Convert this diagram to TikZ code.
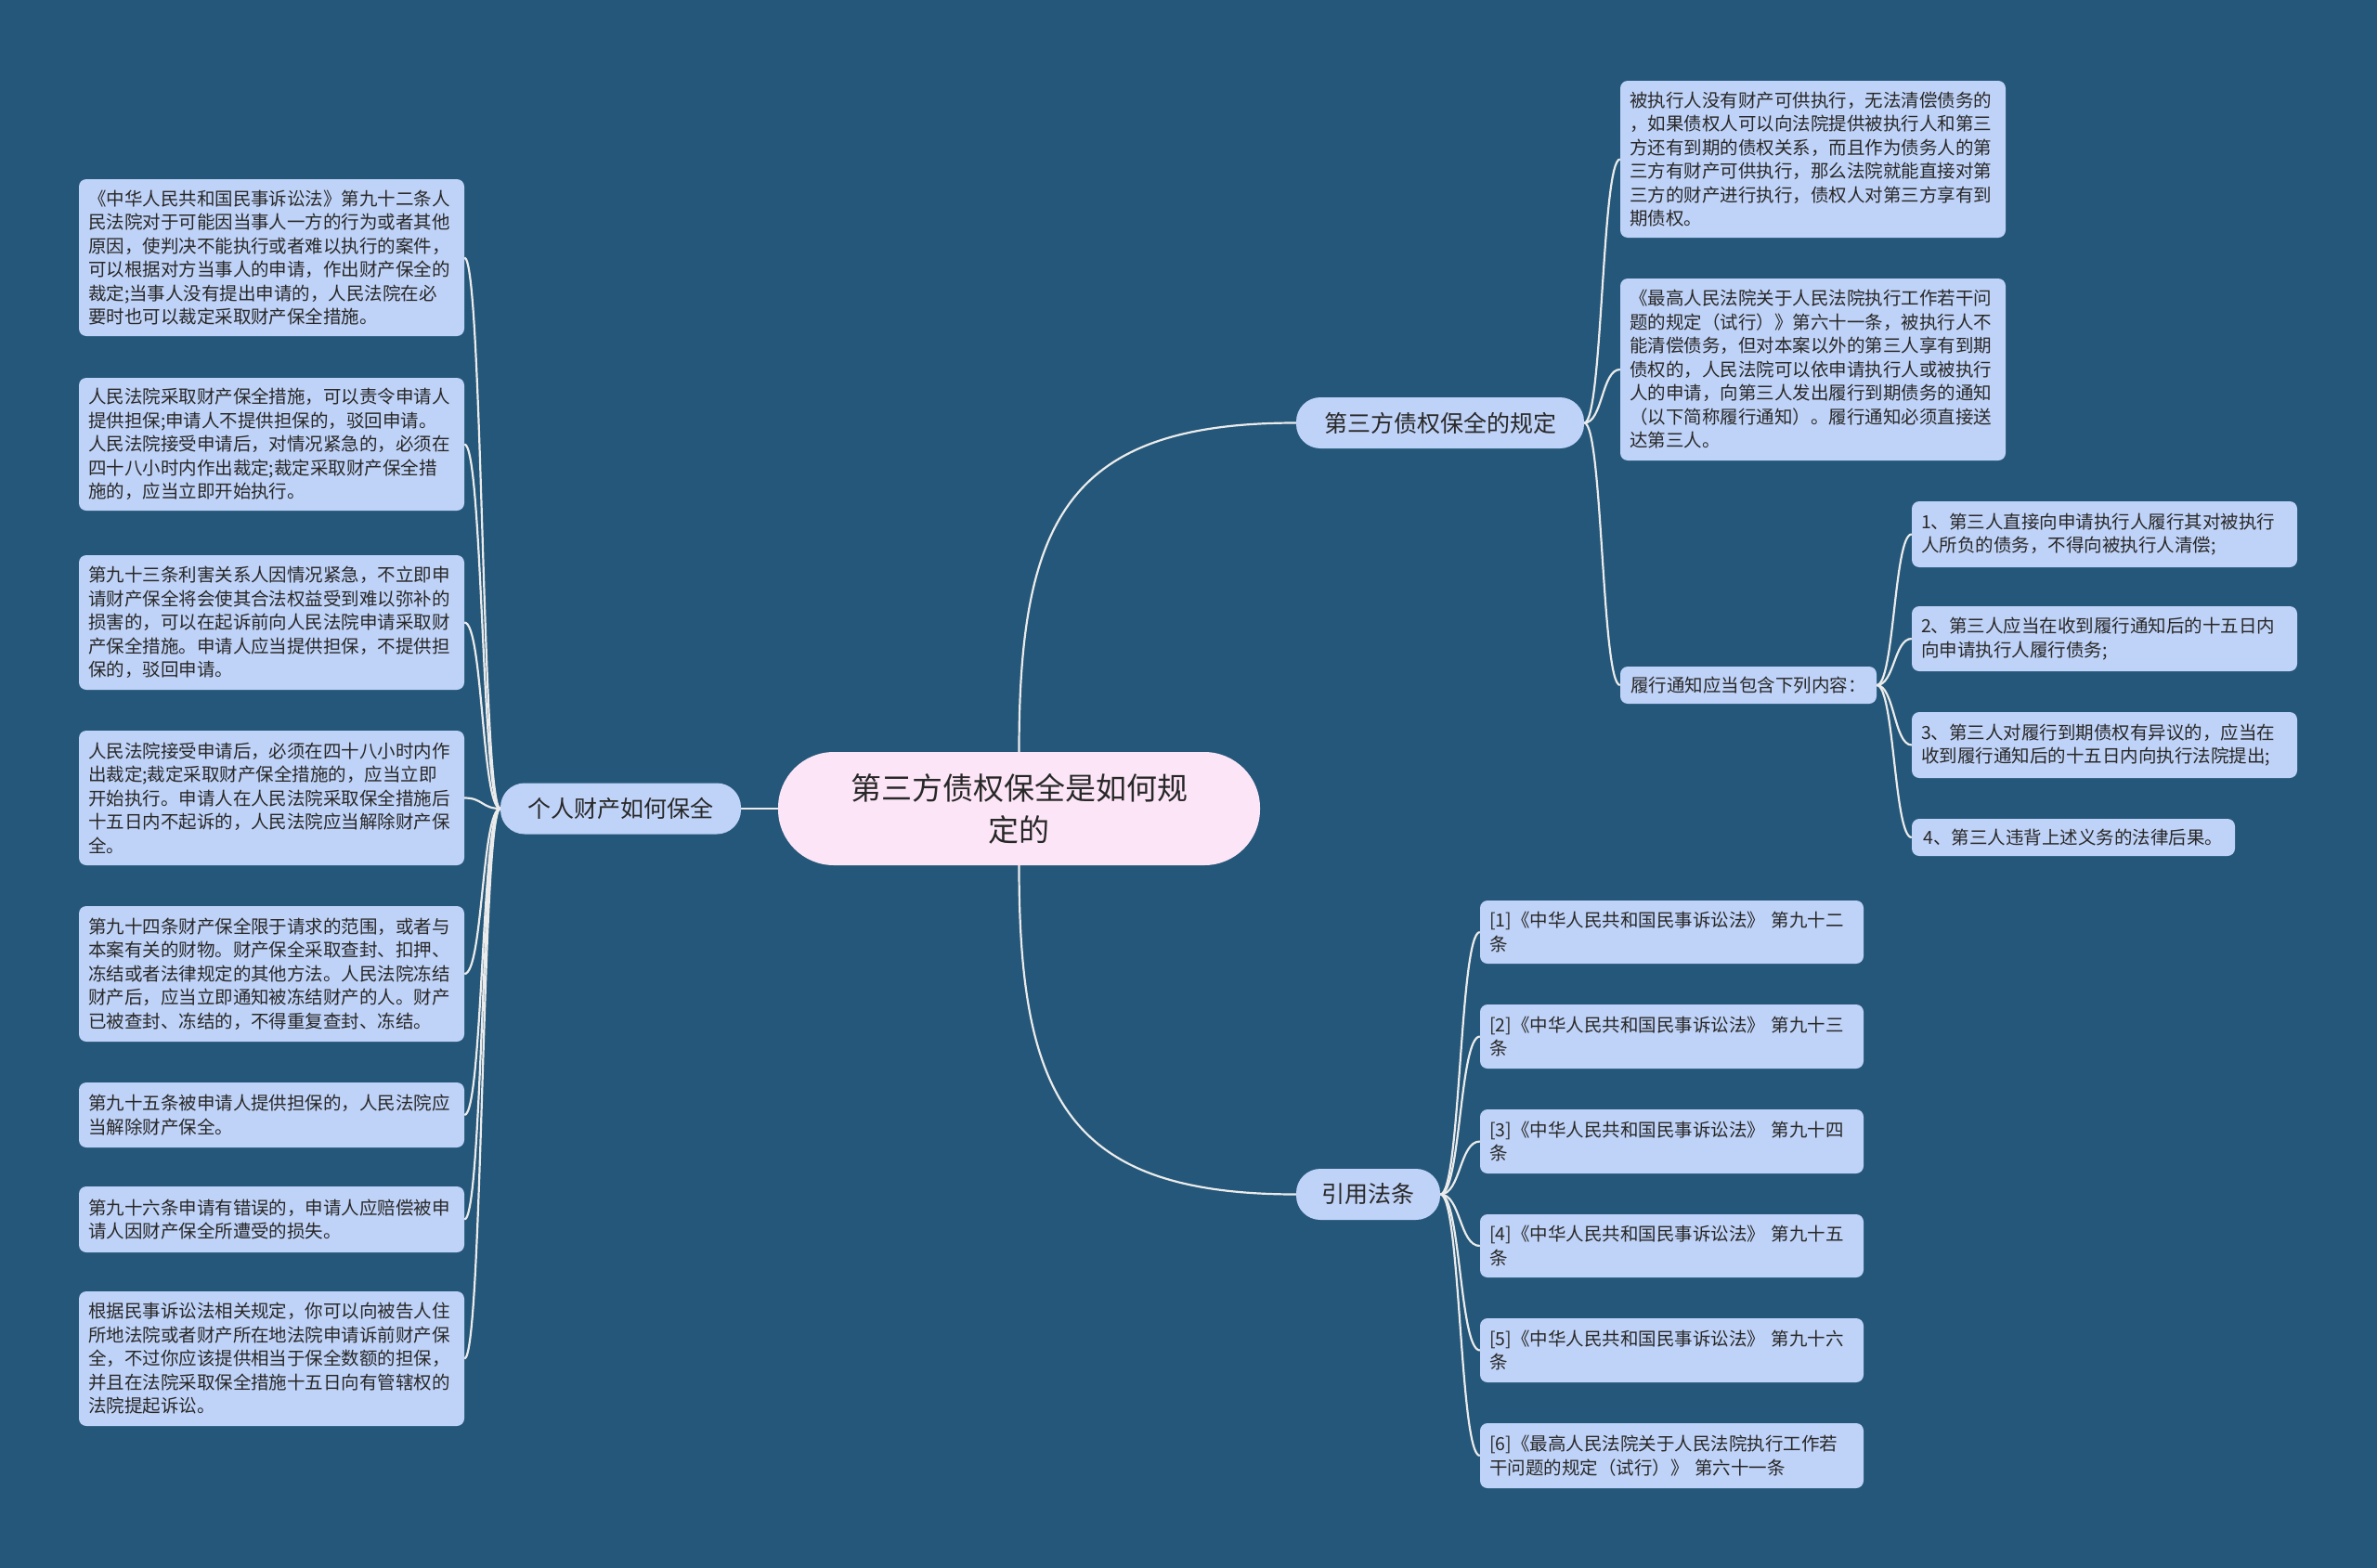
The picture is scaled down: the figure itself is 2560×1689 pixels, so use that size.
\documentclass[tikz,border=0pt]{standalone}
\usepackage{fontspec}
\newfontfamily\cjk{Noto Sans CJK SC}
\definecolor{bgc}{RGB}{36,87,121}
\definecolor{leafc}{RGB}{191,210,247}
\definecolor{rootc}{RGB}{252,229,247}
\definecolor{txt}{RGB}{40,40,40}
\definecolor{linec}{RGB}{235,235,235}
\pgfdeclarelayer{bgl}
\pgfdeclarelayer{conl}
\pgfsetlayers{bgl,conl,main}
\tikzset{
  leaf/.style={fill=leafc, rounded corners=8pt, text=txt,
    font=\cjk\fontsize{19.5}{25.5}\selectfont, align=left,
    inner xsep=10pt, inner ysep=10pt, minimum width=415pt, text width=395pt},
  leafone/.style={fill=leafc, rounded corners=8pt, text=txt,
    font=\cjk\fontsize{19.5}{25.5}\selectfont,
    inner xsep=10pt, inner ysep=8pt, minimum height=40pt},
  branch/.style={fill=leafc, rounded corners=26pt, text=txt,
    font=\cjk\fontsize{25}{30}\selectfont, minimum height=55pt, inner xsep=12pt},
  rootnode/.style={fill=rootc, rounded corners=60pt, text=txt,
    font=\cjk\fontsize{33}{45}\selectfont, align=center,
    minimum width=519pt, minimum height=122pt},
  conn/.style={draw=linec, line width=2.2pt}
}
\begin{document}
\begin{tikzpicture}[x=1pt,y=-1pt]
\begin{pgfonlayer}{bgl}
\fill[bgc] (0,0) rectangle (2560,1689);
\end{pgfonlayer}
\useasboundingbox (0,0) rectangle (2560,1689);

% root and branches
\node[rootnode] (C) at (1097.5,871) {第三方债权保全是如何规\\定的};
\node[branch, minimum width=259pt] (P) at (668.5,871) {个人财产如何保全};
\node[branch, minimum width=310pt] (T) at (1551,455.5) {第三方债权保全的规定};
\node[branch, minimum width=155pt] (Y) at (1473.5,1286.5) {引用法条};

% left leaves
\node[leaf, minimum height=169pt] (L1) at (292.5,277.5) {《中华人民共和国民事诉讼法》第九十二条人\\民法院对于可能因当事人一方的行为或者其他\\原因，使判决不能执行或者难以执行的案件，\\可以根据对方当事人的申请，作出财产保全的\\裁定;当事人没有提出申请的，人民法院在必\\要时也可以裁定采取财产保全措施。};
\node[leaf, minimum height=143pt] (L2) at (292.5,478.5) {人民法院采取财产保全措施，可以责令申请人\\提供担保;申请人不提供担保的，驳回申请。\\人民法院接受申请后，对情况紧急的，必须在\\四十八小时内作出裁定;裁定采取财产保全措\\施的，应当立即开始执行。};
\node[leaf, minimum height=145pt] (L3) at (292.5,670.5) {第九十三条利害关系人因情况紧急，不立即申\\请财产保全将会使其合法权益受到难以弥补的\\损害的，可以在起诉前向人民法院申请采取财\\产保全措施。申请人应当提供担保，不提供担\\保的，驳回申请。};
\node[leaf, minimum height=145pt] (L4) at (292.5,859.5) {人民法院接受申请后，必须在四十八小时内作\\出裁定;裁定采取财产保全措施的，应当立即\\开始执行。申请人在人民法院采取保全措施后\\十五日内不起诉的，人民法院应当解除财产保\\全。};
\node[leaf, minimum height=146pt] (L5) at (292.5,1049) {第九十四条财产保全限于请求的范围，或者与\\本案有关的财物。财产保全采取查封、扣押、\\冻结或者法律规定的其他方法。人民法院冻结\\财产后，应当立即通知被冻结财产的人。财产\\已被查封、冻结的，不得重复查封、冻结。};
\node[leaf, minimum height=70pt] (L6) at (292.5,1201) {第九十五条被申请人提供担保的，人民法院应\\当解除财产保全。};
\node[leaf, minimum height=71pt] (L7) at (292.5,1313.5) {第九十六条申请有错误的，申请人应赔偿被申\\请人因财产保全所遭受的损失。};
\node[leaf, minimum height=145pt] (L8) at (292.5,1463.5) {根据民事诉讼法相关规定，你可以向被告人住\\所地法院或者财产所在地法院申请诉前财产保\\全，不过你应该提供相当于保全数额的担保，\\并且在法院采取保全措施十五日向有管辖权的\\法院提起诉讼。};

% right upper leaves
\node[leaf, minimum height=169pt] (R1) at (1952.5,171.5) {被执行人没有财产可供执行，无法清偿债务的\\，如果债权人可以向法院提供被执行人和第三\\方还有到期的债权关系，而且作为债务人的第\\三方有财产可供执行，那么法院就能直接对第\\三方的财产进行执行，债权人对第三方享有到\\期债权。};
\node[leaf, minimum height=196pt] (R2) at (1952.5,398) {《最高人民法院关于人民法院执行工作若干问\\题的规定（试行）》第六十一条，被执行人不\\能清偿债务，但对本案以外的第三人享有到期\\债权的，人民法院可以依申请执行人或被执行\\人的申请，向第三人发出履行到期债务的通知\\（以下简称履行通知）。履行通知必须直接送\\达第三人。};
\node[leafone, minimum width=276pt] (R3) at (1883,738) {履行通知应当包含下列内容：};

\node[leaf, minimum height=71pt] (K1) at (2266.5,575.5) {1、第三人直接向申请执行人履行其对被执行\\人所负的债务，不得向被执行人清偿;};
\node[leaf, minimum height=70pt] (K2) at (2266.5,688) {2、第三人应当在收到履行通知后的十五日内\\向申请执行人履行债务;};
\node[leaf, minimum height=71pt] (K3) at (2266.5,802.5) {3、第三人对履行到期债权有异议的，应当在\\收到履行通知后的十五日内向执行法院提出;};
\node[leafone, minimum width=348pt] (K4) at (2233,902) {4、第三人违背上述义务的法律后果。};

% citation leaves
\node[leaf, minimum width=413pt, text width=393pt, minimum height=68pt] (Q1) at (1800.5,1004) {[1]《中华人民共和国民事诉讼法》 第九十二\\条};
\node[leaf, minimum width=413pt, text width=393pt, minimum height=69pt] (Q2) at (1800.5,1116.5) {[2]《中华人民共和国民事诉讼法》 第九十三\\条};
\node[leaf, minimum width=413pt, text width=393pt, minimum height=69pt] (Q3) at (1800.5,1229.5) {[3]《中华人民共和国民事诉讼法》 第九十四\\条};
\node[leaf, minimum width=413pt, text width=393pt, minimum height=68pt] (Q4) at (1800.5,1342) {[4]《中华人民共和国民事诉讼法》 第九十五\\条};
\node[leaf, minimum width=413pt, text width=393pt, minimum height=69pt] (Q5) at (1800.5,1454.5) {[5]《中华人民共和国民事诉讼法》 第九十六\\条};
\node[leaf, minimum width=413pt, text width=393pt, minimum height=70pt] (Q6) at (1800.5,1568) {[6]《最高人民法院关于人民法院执行工作若\\干问题的规定（试行）》 第六十一条};

\begin{pgfonlayer}{conl}
\draw[conn] (C.west) -- (P.east);
\draw[conn] (C.north) .. controls +(0,-250) and +(-246,0) .. (T.west);
\draw[conn] (C.south) .. controls +(0,250) and +(-246,0) .. (Y.west);
\foreach \n in {L1,L2,L3,L4,L5,L6,L7,L8}
  \draw[conn] (P.west) .. controls +(-20,0) and +(20,0) .. (\n.east);
\foreach \n in {R1,R2,R3}
  \draw[conn] (T.east) .. controls +(20,0) and +(-20,0) .. (\n.west);
\foreach \n in {K1,K2,K3,K4}
  \draw[conn] (R3.east) .. controls +(19,0) and +(-19,0) .. (\n.west);
\foreach \n in {Q1,Q2,Q3,Q4,Q5,Q6}
  \draw[conn] (Y.east) .. controls +(22,0) and +(-22,0) .. (\n.west);
\end{pgfonlayer}
\end{tikzpicture}
\end{document}
